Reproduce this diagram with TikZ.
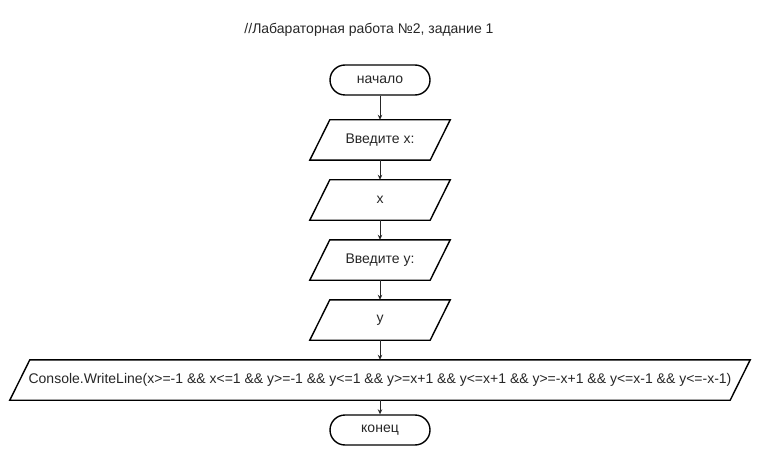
\documentclass[tikz,border=0pt]{standalone}
\usepackage{fontspec}
\setmainfont{Liberation Sans}
\usetikzlibrary{arrows.meta}
\begin{document}
\begin{tikzpicture}[x=1pt,y=-1pt,
  every node/.style={font=\fontsize{14}{16}\selectfont,text=black!85},
  term/.style={draw,line width=1.4pt,rounded corners=15pt,minimum width=100pt,minimum height=30pt,inner sep=0pt},
  io/.style={minimum width=120pt,minimum height=40pt,inner sep=0pt},
  ioline/.style={line width=1.4pt,line join=miter},
  conn/.style={line width=1pt,draw=black!85,-{Stealth[length=5pt,width=4.5pt]}}]
\useasboundingbox (0,0) rectangle (760,465);
\node (title) at (369,30) {//Лабараторная работа №2, задание 1};
\node[term] (start) at (380,80) {начало};
\node[io] (inx) at (380,140) {Введите х:};
\node[io] (x) at (380,200) {х};
\node[io] (iny) at (380,260) {Введите у:};
\node[io] (y) at (380,320) {у};
\node[io,minimum width=720pt] (out) at (380,380) {Console.WriteLine(x>=-1 \&\& x<=1 \&\& y>=-1 \&\& y<=1 \&\& y>=x+1 \&\& y<=x+1 \&\& y>=-x+1 \&\& y<=x-1 \&\& y<=-x-1)};
\node[term] (end) at (380,430) {конец};
\foreach \n in {inx,x,iny,y,out}
  \draw[ioline] ([xshift=10pt]\n.north west) -- ([xshift=10pt]\n.north east) --
    ([xshift=-10pt]\n.south east) -- ([xshift=-10pt]\n.south west) -- cycle;
\draw[conn] (start) -- (inx);
\draw[conn] (inx) -- (x);
\draw[conn] (x) -- (iny);
\draw[conn] (iny) -- (y);
\draw[conn] (y) -- (out);
\draw[conn] (out) -- (end);
\end{tikzpicture}
\end{document}
